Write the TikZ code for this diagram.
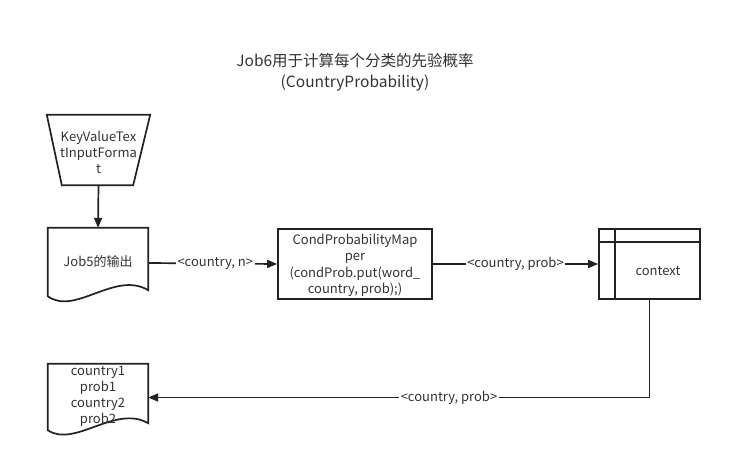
\documentclass[tikz,border=0pt]{standalone}
\usepackage{fontspec}
\setmainfont{Noto Sans CJK SC}
\usetikzlibrary{arrows.meta,calc}
\definecolor{ink}{HTML}{333333}
\definecolor{stroke}{HTML}{222222}
\begin{document}
\begin{tikzpicture}[x=1pt,y=-1pt,
  shp/.style={draw=stroke, line width=1.7pt, line join=miter},
  frame/.style={draw=none, inner sep=0pt},
  txt/.style={font=\fontsize{13}{16}\selectfont, text=ink, align=center, inner sep=0pt},
  conn/.style={draw=stroke, line width=1.7pt, -{Triangle[length=10pt,width=8pt]}},
  elbl/.style={fill=white, inner sep=1.5pt, font=\fontsize{13}{15}\selectfont, text=ink}]
\useasboundingbox (0,0) rectangle (732,463);
\fill[white] (0,0) rectangle (732,463);

% title
\node[txt, font=\fontsize{15.5}{21}\selectfont] (title) at (355,72) {Job6用于计算每个分类的先验概率\\(CountryProbability)};

% source trapezium
\node[frame, minimum width=103pt, minimum height=70pt] (src) at (98.5,150) {};
\draw[shp] (src.north west) -- (src.north east) -- ($(src.south east)+(-17,0)$) -- ($(src.south west)+(15,0)$) -- cycle;
\node[txt] (srct) at (98.5,152.5) {KeyValueTex\\tInputForma\\t};

% Job5 document
\node[frame, minimum width=100pt, minimum height=70pt] (job5) at (98,263) {};
\draw[shp] (job5.north west) -- (job5.north east) -- ($(job5.south east)+(0,-8)$)
  .. controls ($(job5.south east)+(-33,-28)$) and ($(job5.south west)+(27,18)$) .. ($(job5.south west)+(0,-2)$) -- cycle;
\node[txt] (job5t) at (98,262) {Job5的输出};

% mapper box
\node[shp, minimum width=154pt, minimum height=70pt, inner sep=0pt] (map) at (355,264) {};
\node[txt, font=\fontsize{13}{16.5}\selectfont] (mapt) at (355,265.5) {CondProbabilityMap\\per\\(condProb.put(word\_\\country, prob);)};

% context storage
\node[shp, minimum width=101pt, minimum height=70pt, inner sep=0pt] (ctx) at (649.5,264) {};
\draw[shp] ($(ctx.north west)+(17,0)$) -- ($(ctx.south west)+(17,0)$);
\draw[shp] ($(ctx.north west)+(0,14)$) -- ($(ctx.north east)+(0,14)$);
\node[txt] (ctxt) at (658,271) {context};

% output document
\node[frame, minimum width=100pt, minimum height=67pt] (out) at (98,397.5) {};
\draw[shp] (out.north west) -- (out.north east) -- ($(out.south east)+(0,-8)$)
  .. controls ($(out.south east)+(-33,-27)$) and ($(out.south west)+(27,17)$) .. ($(out.south west)+(0,-1)$) -- cycle;
\node[txt] (outt) at (98,396) {country1\\prob1\\country2\\prob2};

% connectors
\draw[conn] (src.south) -- (job5.north);
\draw[conn] (job5.east) -- node[elbl, pos=0.52] {<country, n>} (map.west);
\draw[conn] (map.east) -- node[elbl, pos=0.5] {<country, prob>} (ctx.west);
\draw[conn] (ctx.south) |- node[elbl, pos=0.7] {<country, prob>} (out.east);
\end{tikzpicture}
\end{document}
